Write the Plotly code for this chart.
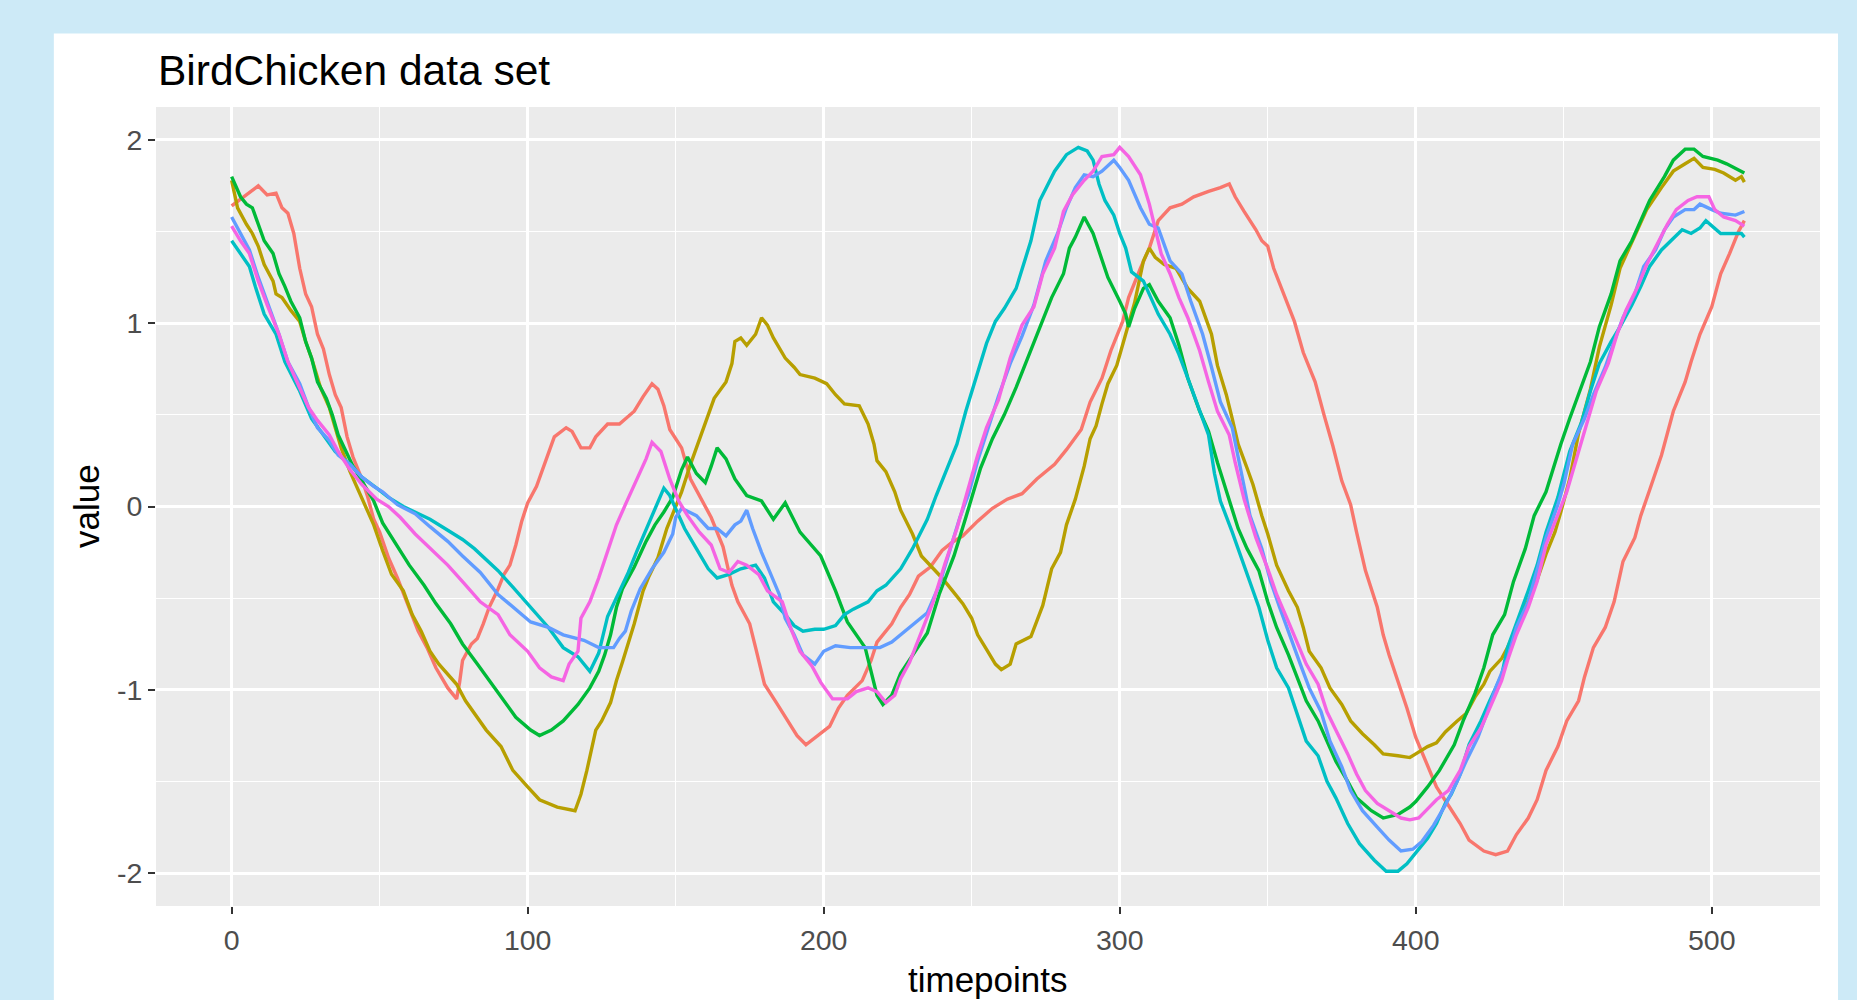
import plotly.graph_objects as go

# ---------------- data ----------------
red_t = [0,5,9,12,15,17,19,21,23,25,27,29,31,33,35,37,39,41,44,46,48,50,53,56,59,63,66,69,73,76,77,78,81,83,85,87,90,92,94,96,98,100,103,106,109,113,115,118,121,123,127,131,136,139,142,144,146,148,152,155,159,162,166,169,171,175,177,180,184,187,191,194,198,202,205,208,213,216,218,223,226,229,232,236,240,243,247,252,257,262,267,272,278,282,287,290,294,297,301,303,307,310,313,317,321,325,330,334,337,339,342,346,348,350,352,356,359,362,366,369,372,375,378,380,383,387,389,391,394,397,400,404,407,411,415,418,423,427,431,434,438,441,444,448,451,455,457,460,464,467,470,474,476,479,483,487,491,493,496,500,503,506,509,511]
red_v = [1.64,1.70,1.75,1.70,1.71,1.63,1.60,1.49,1.30,1.16,1.09,0.94,0.86,0.72,0.61,0.54,0.38,0.27,0.15,0.05,-0.07,-0.14,-0.28,-0.39,-0.52,-0.68,-0.77,-0.88,-0.99,-1.05,-0.96,-0.84,-0.75,-0.72,-0.64,-0.55,-0.45,-0.37,-0.32,-0.21,-0.08,0.02,0.11,0.24,0.38,0.43,0.41,0.32,0.32,0.38,0.45,0.45,0.52,0.60,0.67,0.64,0.55,0.42,0.32,0.15,0.03,-0.06,-0.22,-0.43,-0.52,-0.64,-0.77,-0.97,-1.07,-1.15,-1.25,-1.30,-1.25,-1.20,-1.10,-1.03,-0.95,-0.84,-0.74,-0.64,-0.55,-0.48,-0.38,-0.33,-0.24,-0.20,-0.16,-0.08,-0.01,0.04,0.07,0.15,0.23,0.31,0.42,0.57,0.70,0.85,1.01,1.14,1.30,1.41,1.56,1.63,1.65,1.69,1.72,1.74,1.76,1.69,1.61,1.51,1.45,1.42,1.30,1.14,1.01,0.84,0.68,0.50,0.33,0.14,0.01,-0.14,-0.35,-0.55,-0.70,-0.81,-0.95,-1.10,-1.26,-1.42,-1.53,-1.63,-1.73,-1.82,-1.88,-1.90,-1.88,-1.79,-1.70,-1.60,-1.44,-1.31,-1.17,-1.06,-0.93,-0.77,-0.66,-0.52,-0.30,-0.17,-0.05,0.09,0.28,0.52,0.68,0.79,0.94,1.09,1.27,1.38,1.50,1.56]

gold_t = [0,2,5,7,9,11,14,15,17,20,23,25,27,30,33,35,37,40,43,45,48,51,54,58,61,64,67,70,76,79,83,86,91,95,100,104,110,113,116,118,120,123,125,128,130,132,136,139,141,144,147,149,152,155,158,161,163,167,169,170,172,174,177,179,181,183,187,190,192,197,201,204,207,212,215,217,218,221,224,226,230,233,236,240,244,247,250,252,255,258,260,263,265,270,274,277,280,282,285,288,290,292,294,296,299,302,305,308,310,312,315,319,323,327,329,331,333,336,338,340,343,345,348,350,353,357,360,362,364,368,371,375,378,382,386,389,394,398,400,404,407,410,414,417,420,423,425,429,431,434,438,441,444,447,449,452,455,459,462,466,469,474,478,483,487,491,494,497,501,504,508,510,511]
gold_v = [1.78,1.63,1.54,1.49,1.42,1.32,1.23,1.16,1.14,1.07,1.01,0.90,0.81,0.65,0.54,0.43,0.32,0.19,0.08,0.01,-0.10,-0.24,-0.37,-0.46,-0.59,-0.68,-0.79,-0.86,-0.97,-1.06,-1.15,-1.22,-1.31,-1.44,-1.53,-1.60,-1.64,-1.65,-1.66,-1.57,-1.44,-1.22,-1.17,-1.07,-0.95,-0.85,-0.64,-0.46,-0.38,-0.28,-0.12,-0.04,0.08,0.23,0.37,0.50,0.59,0.68,0.78,0.90,0.92,0.88,0.94,1.03,0.99,0.92,0.81,0.76,0.72,0.70,0.67,0.61,0.56,0.55,0.45,0.34,0.25,0.19,0.08,-0.02,-0.15,-0.27,-0.32,-0.39,-0.47,-0.53,-0.61,-0.70,-0.78,-0.86,-0.89,-0.86,-0.75,-0.71,-0.54,-0.34,-0.25,-0.10,0.04,0.22,0.37,0.44,0.56,0.67,0.77,0.94,1.11,1.34,1.41,1.36,1.32,1.30,1.19,1.12,1.03,0.94,0.77,0.61,0.48,0.34,0.21,0.12,-0.05,-0.15,-0.32,-0.46,-0.55,-0.66,-0.79,-0.88,-0.99,-1.08,-1.17,-1.24,-1.30,-1.35,-1.36,-1.37,-1.35,-1.31,-1.29,-1.23,-1.17,-1.13,-1.04,-0.97,-0.90,-0.83,-0.77,-0.66,-0.52,-0.40,-0.26,-0.14,-0.03,0.15,0.40,0.64,0.87,1.10,1.30,1.48,1.62,1.74,1.83,1.87,1.90,1.85,1.84,1.82,1.78,1.80,1.77]

green_t = [0,3,5,7,9,11,14,16,18,20,23,25,27,29,32,34,36,38,41,44,48,51,56,60,65,69,74,78,83,87,92,96,101,104,108,112,117,121,124,126,128,130,132,136,140,143,146,149,152,154,157,160,162,164,167,170,174,179,183,187,192,197,199,204,208,214,216,218,220,223,226,230,235,239,244,248,253,257,261,265,269,273,277,281,283,285,288,291,293,296,300,302,303,305,308,310,313,317,320,323,327,330,333,336,340,343,347,350,353,357,360,363,367,370,373,377,380,385,389,394,398,400,404,408,413,416,420,423,426,430,433,437,440,444,449,452,456,459,462,466,469,473,476,479,484,487,491,494,497,502,505,509,511]
green_v = [1.80,1.69,1.65,1.63,1.54,1.45,1.38,1.27,1.20,1.12,1.03,0.90,0.81,0.68,0.59,0.50,0.39,0.32,0.22,0.14,0.03,-0.09,-0.22,-0.32,-0.43,-0.53,-0.64,-0.75,-0.86,-0.95,-1.06,-1.15,-1.22,-1.25,-1.22,-1.17,-1.08,-0.99,-0.90,-0.81,-0.70,-0.55,-0.45,-0.33,-0.19,-0.10,-0.03,0.05,0.20,0.27,0.18,0.13,0.22,0.32,0.26,0.15,0.06,0.03,-0.07,0.02,-0.14,-0.23,-0.27,-0.46,-0.63,-0.77,-0.90,-1.03,-1.08,-1.03,-0.91,-0.81,-0.69,-0.48,-0.27,-0.06,0.21,0.37,0.50,0.65,0.81,0.98,1.14,1.27,1.41,1.47,1.58,1.49,1.39,1.25,1.12,1.05,0.98,1.08,1.19,1.21,1.12,1.03,0.88,0.70,0.52,0.41,0.24,0.08,-0.12,-0.23,-0.35,-0.52,-0.66,-0.81,-0.93,-1.06,-1.17,-1.28,-1.39,-1.50,-1.59,-1.66,-1.70,-1.68,-1.64,-1.61,-1.53,-1.44,-1.30,-1.17,-1.02,-0.88,-0.70,-0.59,-0.41,-0.23,-0.05,0.08,0.34,0.48,0.65,0.79,0.98,1.16,1.34,1.45,1.56,1.67,1.80,1.89,1.95,1.95,1.91,1.89,1.87,1.84,1.82]

cyan_t = [0,3,6,8,11,15,18,23,27,31,35,40,44,49,53,58,62,67,73,78,82,86,90,95,101,107,112,117,121,124,127,130,134,137,140,143,146,148,150,153,157,161,164,168,172,177,180,183,187,190,193,197,200,204,207,210,215,218,221,226,230,235,238,242,245,248,252,255,258,261,265,270,273,278,282,286,289,291,293,295,298,300,302,304,308,311,313,317,320,323,327,330,332,334,338,341,344,347,350,353,357,360,363,367,370,373,377,381,386,390,394,397,400,404,407,410,412,415,418,422,425,429,431,434,438,441,444,448,452,456,459,462,466,469,473,476,479,483,486,490,493,496,498,501,503,506,510,511]
cyan_v = [1.45,1.38,1.31,1.20,1.05,0.94,0.79,0.63,0.48,0.39,0.30,0.23,0.16,0.10,0.05,0.00,-0.03,-0.07,-0.13,-0.18,-0.23,-0.29,-0.35,-0.44,-0.55,-0.66,-0.77,-0.82,-0.90,-0.80,-0.60,-0.50,-0.36,-0.24,-0.13,-0.01,0.10,0.06,-0.01,-0.12,-0.23,-0.34,-0.39,-0.37,-0.34,-0.32,-0.39,-0.52,-0.59,-0.65,-0.68,-0.67,-0.67,-0.65,-0.59,-0.56,-0.52,-0.46,-0.43,-0.34,-0.23,-0.07,0.06,0.22,0.34,0.52,0.73,0.89,1.01,1.08,1.19,1.45,1.67,1.83,1.92,1.96,1.94,1.89,1.76,1.67,1.59,1.49,1.41,1.28,1.23,1.12,1.05,0.94,0.83,0.70,0.52,0.39,0.18,0.03,-0.14,-0.28,-0.41,-0.55,-0.73,-0.88,-0.99,-1.13,-1.28,-1.36,-1.50,-1.59,-1.73,-1.84,-1.93,-1.99,-1.99,-1.95,-1.89,-1.81,-1.73,-1.62,-1.57,-1.46,-1.30,-1.17,-1.06,-0.92,-0.77,-0.64,-0.46,-0.32,-0.14,0.05,0.30,0.46,0.63,0.78,0.90,0.98,1.10,1.20,1.31,1.40,1.45,1.51,1.49,1.52,1.56,1.52,1.49,1.49,1.49,1.47]

blue_t = [0,3,6,9,12,16,19,23,26,29,33,36,40,44,48,51,56,62,67,73,78,84,90,95,101,107,112,119,124,129,131,133,135,138,142,146,149,150,152,157,161,164,167,170,172,174,176,179,182,185,187,190,193,197,200,204,209,215,219,223,226,230,235,239,243,246,249,252,255,259,263,267,271,275,279,282,285,288,291,294,298,300,303,307,310,313,317,321,324,328,331,334,338,341,344,348,351,354,358,361,364,368,371,375,378,382,387,391,395,399,402,406,410,414,417,421,424,427,431,434,438,441,444,448,450,453,457,460,464,467,470,474,477,481,484,487,491,494,496,500,503,508,511]
blue_v = [1.58,1.49,1.40,1.25,1.12,0.94,0.79,0.67,0.54,0.43,0.36,0.28,0.23,0.16,0.11,0.08,0.01,-0.04,-0.11,-0.19,-0.27,-0.36,-0.48,-0.55,-0.63,-0.66,-0.70,-0.73,-0.77,-0.77,-0.72,-0.68,-0.57,-0.45,-0.34,-0.25,-0.15,-0.06,-0.01,-0.05,-0.12,-0.12,-0.16,-0.10,-0.08,-0.02,-0.12,-0.25,-0.36,-0.48,-0.61,-0.70,-0.81,-0.86,-0.79,-0.76,-0.77,-0.77,-0.77,-0.74,-0.70,-0.65,-0.58,-0.43,-0.22,-0.06,0.07,0.25,0.40,0.60,0.78,0.93,1.10,1.34,1.49,1.63,1.74,1.81,1.80,1.83,1.89,1.85,1.78,1.63,1.54,1.52,1.34,1.27,1.12,0.94,0.76,0.57,0.43,0.18,-0.05,-0.23,-0.41,-0.55,-0.72,-0.86,-0.99,-1.12,-1.28,-1.42,-1.55,-1.66,-1.75,-1.82,-1.88,-1.87,-1.83,-1.74,-1.63,-1.50,-1.39,-1.26,-1.13,-0.99,-0.83,-0.66,-0.52,-0.35,-0.17,0.01,0.12,0.34,0.48,0.61,0.76,0.90,1.03,1.16,1.31,1.40,1.51,1.58,1.62,1.62,1.65,1.62,1.60,1.59,1.61]

magenta_t = [0,3,6,9,12,16,19,23,26,29,33,36,40,44,49,53,57,62,67,73,78,84,90,94,100,104,108,112,114,117,118,121,124,127,130,133,136,140,142,145,148,151,154,158,162,165,168,171,174,178,181,186,189,192,196,199,203,208,211,215,218,221,224,226,229,233,237,241,245,248,252,255,259,263,267,271,274,278,281,284,288,291,294,298,300,303,307,310,312,314,317,320,323,327,330,333,337,339,342,346,350,353,357,360,363,367,370,373,377,380,383,387,391,395,398,401,404,407,411,415,418,422,425,429,431,434,438,441,444,448,451,455,458,461,465,468,471,475,478,482,485,488,492,495,499,501,504,508,511]
magenta_v = [1.53,1.45,1.38,1.23,1.10,0.94,0.79,0.65,0.54,0.47,0.39,0.30,0.20,0.12,0.04,0.00,-0.06,-0.15,-0.23,-0.32,-0.41,-0.52,-0.59,-0.70,-0.79,-0.88,-0.93,-0.95,-0.86,-0.79,-0.61,-0.52,-0.39,-0.24,-0.10,0.01,0.12,0.26,0.35,0.30,0.15,0.03,-0.05,-0.14,-0.21,-0.34,-0.36,-0.30,-0.32,-0.37,-0.46,-0.52,-0.67,-0.79,-0.87,-0.96,-1.05,-1.05,-1.01,-0.99,-1.01,-1.07,-1.03,-0.94,-0.85,-0.69,-0.52,-0.31,-0.12,0.05,0.28,0.43,0.58,0.81,0.99,1.09,1.27,1.41,1.61,1.70,1.78,1.83,1.91,1.92,1.96,1.91,1.81,1.65,1.52,1.38,1.27,1.14,1.03,0.85,0.68,0.52,0.39,0.24,0.04,-0.17,-0.34,-0.48,-0.63,-0.75,-0.86,-0.97,-1.12,-1.22,-1.35,-1.46,-1.55,-1.62,-1.66,-1.70,-1.71,-1.70,-1.65,-1.60,-1.55,-1.44,-1.31,-1.21,-1.10,-0.95,-0.84,-0.70,-0.55,-0.41,-0.21,-0.05,0.08,0.30,0.46,0.63,0.78,0.94,1.07,1.20,1.32,1.45,1.54,1.62,1.67,1.69,1.69,1.62,1.58,1.56,1.53]

series_colors = ["#F8766D", "#B79F00", "#00BA38", "#00BFC4", "#619CFF", "#F564E3"]

x_tickvals = [0, 100, 200, 300, 400, 500]
x_ticktext = ["0", "100", "200", "300", "400", "500"]
x_minor = [50, 150, 250, 350, 450]
y_tickvals = [-2, -1, 0, 1, 2]
y_ticktext = ["-2", "-1", "0", "1", "2"]
y_minor = [-1.5, -0.5, 0.5, 1.5]

title_text = "BirdChicken data set"
x_title = "timepoints"
y_title = "value"

# ---------------- layout geometry (pixels of the 1857x1000 page) ----------------
W, H = 1857, 1000
L, R, T, B = 155.5, 1820.0, 106.7, 906.0


def px(X):
    return (X - L) / (R - L)


def py(Y):
    return (B - Y) / (B - T)


FONT = "Liberation Sans, Arial, Helvetica, sans-serif"

fig = go.Figure()
all_series = [
    (red_t, red_v),
    (gold_t, gold_v),
    (green_t, green_v),
    (cyan_t, cyan_v),
    (blue_t, blue_v),
    (magenta_t, magenta_v),
]
for (t, v), col in zip(all_series, series_colors):
    assert len(t) == len(v)
    fig.add_trace(go.Scatter(x=t, y=v, mode="lines",
                             line=dict(color=col, width=3.4),
                             showlegend=False, hoverinfo="skip"))

axis_common = dict(
    showgrid=True, gridcolor="#FFFFFF", gridwidth=2.6,
    zeroline=False, showline=False,
    ticks="outside", ticklen=7, tickwidth=1.6, tickcolor="#333333",
    tickfont=dict(family=FONT, size=28.5, color="#4D4D4D"),
    fixedrange=True,
)

fig.update_xaxes(range=[-25.55, 536.55], tickmode="array", tickvals=x_tickvals,
                 ticktext=x_ticktext, ticklabelstandoff=2,
                 minor=dict(tickmode="array", tickvals=x_minor, showgrid=True,
                            gridcolor="#FFFFFF", gridwidth=1.3, ticks=""),
                 **axis_common)
fig.update_yaxes(range=[-2.18, 2.18], tickmode="array", tickvals=y_tickvals,
                 ticktext=y_ticktext, ticklabelstandoff=0,
                 minor=dict(tickmode="array", tickvals=y_minor, showgrid=True,
                            gridcolor="#FFFFFF", gridwidth=1.3, ticks=""),
                 **axis_common)

fig.update_layout(
    width=W, height=H,
    margin=dict(l=L, r=W - R, t=T, b=H - B, pad=0, autoexpand=False),
    paper_bgcolor="#CDEAF7",
    plot_bgcolor="#EBEBEB",
    showlegend=False,
    font=dict(family=FONT),
    shapes=[
        dict(type="rect", xref="paper", yref="paper",
             x0=px(53.3), x1=px(1838.0), y0=py(1010), y1=py(33.2),
             fillcolor="#FFFFFF", line=dict(width=0), layer="below"),
        dict(type="rect", xref="paper", yref="paper",
             x0=0, x1=1, y0=0, y1=1,
             fillcolor="#EBEBEB", line=dict(width=0), layer="below"),
    ],
    annotations=[
        dict(text=title_text, xref="paper", yref="paper", x=px(155.5), y=py(70),
             xanchor="left", yanchor="middle", showarrow=False,
             font=dict(family=FONT, size=42.5, color="#000000")),
        dict(text=x_title, xref="paper", yref="paper", x=0.5, y=py(980),
             xanchor="center", yanchor="middle", showarrow=False,
             font=dict(family=FONT, size=35, color="#000000")),
        dict(text=y_title, xref="paper", yref="paper", x=px(86), y=0.5,
             xanchor="center", yanchor="middle", showarrow=False, textangle=-90,
             font=dict(family=FONT, size=35, color="#000000")),
    ],
)

fig.write_html(
    "out.html",
    config={"displayModeBar": False, "staticPlot": False},
    post_script="document.body.style.margin='0px';document.body.style.padding='0px';"
                "document.body.style.overflow='hidden';"
                "document.documentElement.style.background='#CDEAF7';",
)
